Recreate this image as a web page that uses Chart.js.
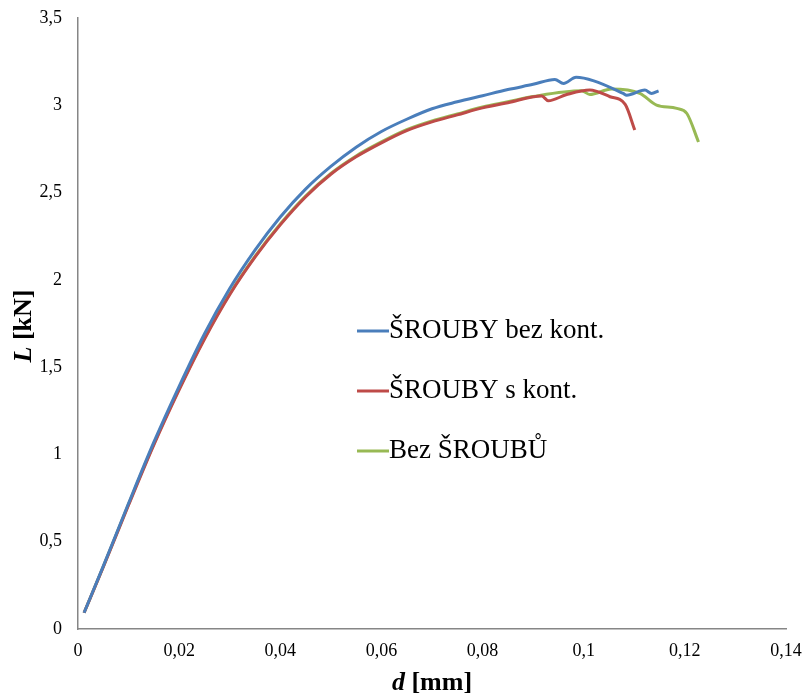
<!DOCTYPE html>
<html>
<head>
<meta charset="utf-8">
<script src="https://cdn.jsdelivr.net/npm/chart.js@4"></script>
<style>
  html, body { margin: 0; padding: 0; background: #fff; }
  #wrap { width: 807px; height: 697px; }
</style>
</head>
<body>
<div id="wrap"><canvas id="chart"></canvas></div>
<script>
// Data
const seriesLabels = ['ŠROUBY bez kont.', 'ŠROUBY s kont.', 'Bez ŠROUBŮ'];

const blueD = [0.0012, 0.005, 0.01, 0.015, 0.02, 0.025, 0.03, 0.035, 0.04, 0.045, 0.05, 0.055, 0.06, 0.065, 0.07, 0.075, 0.08, 0.085, 0.09, 0.0943, 0.096, 0.0985, 0.102, 0.1078, 0.1085, 0.1121, 0.1134, 0.1148];
const blueL = [0.093, 0.36, 0.72, 1.07, 1.39, 1.69, 1.95, 2.17, 2.36, 2.52, 2.65, 2.76, 2.85, 2.92, 2.98, 3.02, 3.055, 3.09, 3.12, 3.148, 3.125, 3.16, 3.14, 3.068, 3.058, 3.087, 3.068, 3.083];

const redD = [0.0012, 0.005, 0.01, 0.015, 0.02, 0.025, 0.03, 0.035, 0.04, 0.045, 0.05, 0.055, 0.06, 0.065, 0.07, 0.075, 0.08, 0.085, 0.0917, 0.093, 0.0965, 0.1012, 0.1052, 0.1082, 0.1101];
const redL = [0.093, 0.355, 0.71, 1.055, 1.37, 1.66, 1.915, 2.13, 2.315, 2.475, 2.605, 2.705, 2.785, 2.855, 2.905, 2.945, 2.985, 3.015, 3.053, 3.026, 3.06, 3.087, 3.049, 3.005, 2.858];

const greenD = [0.0012, 0.005, 0.01, 0.015, 0.02, 0.025, 0.03, 0.035, 0.04, 0.045, 0.05, 0.055, 0.06, 0.065, 0.07, 0.075, 0.08, 0.085, 0.09, 0.0996, 0.1012, 0.1055, 0.1111, 0.1144, 0.1184, 0.1204, 0.1227];
const greenL = [0.093, 0.357, 0.715, 1.06, 1.375, 1.665, 1.92, 2.135, 2.32, 2.48, 2.61, 2.71, 2.79, 2.86, 2.91, 2.95, 2.99, 3.02, 3.05, 3.083, 3.062, 3.093, 3.068, 3.001, 2.982, 2.953, 2.79];

const seriesColors = ['#4A7EBB', '#BE4B48', '#98B954'];

const toPoints = (xs, ys) => xs.map((x, i) => ({ x: x, y: ys[i] }));
const fmt = v => String(+v.toFixed(2)).replace('.', ',');

// Axis titles with italic symbol + legend inside the plot
const decorations = {
    id: 'decorations',
    afterDraw(chart) {
        const c = chart.ctx;
        c.save();
        c.fillStyle = '#000';
        c.textBaseline = 'middle';
        c.textAlign = 'left';

        const xi = 'bold italic 26px "Liberation Serif"';
        const xb = 'bold 26px "Liberation Serif"';

        // x title: "d [mm]"
        c.font = xi; const w1 = c.measureText('d').width;
        c.font = xb; const w2 = c.measureText(' [mm]').width;
        let sx = 432 - (w1 + w2) / 2;
        c.font = xi; c.fillText('d', sx, 683);
        c.font = xb; c.fillText(' [mm]', sx + w1, 683);

        // y title: "L [kN]" rotated
        c.translate(24, 326);
        c.rotate(-Math.PI / 2);
        c.font = xi; const w3 = c.measureText('L').width;
        c.font = xb; const w4 = c.measureText(' [kN]').width;
        sx = -(w3 + w4) / 2;
        c.font = xi; c.fillText('L', sx, 0);
        c.font = xb; c.fillText(' [kN]', sx + w3, 0);
        c.setTransform(1, 0, 0, 1, 0, 0);

        // legend
        c.font = '27px "Liberation Serif"';
        chart.data.datasets.forEach((ds, i) => {
            const y = 331 + i * 60;
            c.strokeStyle = ds.borderColor;
            c.lineWidth = 3;
            c.beginPath();
            c.moveTo(357, y);
            c.lineTo(389, y);
            c.stroke();
            c.fillText(ds.label, 389, y);
        });
        c.restore();
    }
};

const datasets = [
    { label: seriesLabels[0], data: toPoints(blueD, blueL), borderColor: seriesColors[0] },
    { label: seriesLabels[1], data: toPoints(redD, redL), borderColor: seriesColors[1] },
    { label: seriesLabels[2], data: toPoints(greenD, greenL), borderColor: seriesColors[2] }
].map(ds => Object.assign(ds, {
    borderWidth: 3,
    pointRadius: 0,
    fill: false,
    cubicInterpolationMode: 'monotone'
}));

new Chart(document.getElementById('chart'), {
    type: 'line',
    data: { datasets: datasets },
    options: {
        responsive: true,
        maintainAspectRatio: false,
        animation: false,
        layout: { autoPadding: false, padding: { top: 18, right: 21, left: 0, bottom: 0 } },
        plugins: {
            legend: { display: false },
            tooltip: { enabled: false }
        },
        scales: {
            x: {
                type: 'linear',
                min: 0,
                max: 0.14,
                afterFit: s => { s.height = 68; s.paddingLeft = 0; s.paddingRight = 0; },
                grid: { display: false, drawTicks: false },
                border: { display: true, color: '#868686', width: 1.5 },
                ticks: {
                    stepSize: 0.02,
                    padding: 11,
                    color: '#000',
                    maxRotation: 0,
                    font: { family: 'Liberation Serif', size: 18 },
                    callback: v => fmt(v)
                }
            },
            y: {
                min: 0,
                max: 3.5,
                afterFit: s => { s.width = 78; s.paddingTop = 0; s.paddingBottom = 0; },
                grid: { display: false, drawTicks: false },
                border: { display: true, color: '#868686', width: 1.5 },
                ticks: {
                    stepSize: 0.5,
                    padding: 16,
                    color: '#000',
                    font: { family: 'Liberation Serif', size: 18 },
                    callback: v => fmt(v)
                }
            }
        }
    },
    plugins: [decorations]
});
</script>
</body>
</html>
